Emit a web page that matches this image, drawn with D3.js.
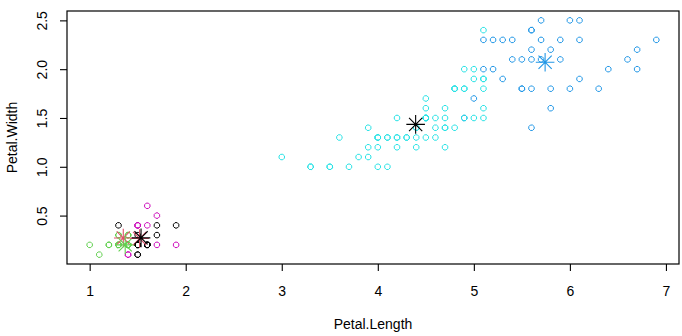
<!DOCTYPE html>
<html><head><meta charset="utf-8">
<script src="https://cdn.jsdelivr.net/npm/d3@7"></script>
<style>body{margin:0;background:#fff}svg{display:block}text{font-family:"Liberation Sans",Arial,sans-serif;fill:#000}</style>
</head><body>
<svg id="c" width="682" height="336"></svg>
<script>
const petalLength = [1.4,1.4,1.3,1.5,1.4,1.7,1.4,1.5,1.4,1.5,1.5,1.6,1.4,1.1,1.2,1.5,1.3,1.4,1.7,1.5,1.7,1.5,1.0,1.7,1.9,1.6,1.6,1.5,1.4,1.6,1.6,1.5,1.5,1.4,1.5,1.2,1.3,1.4,1.3,1.5,1.3,1.3,1.3,1.6,1.9,1.4,1.6,1.4,1.5,1.4,
4.7,4.5,4.9,4.0,4.6,4.5,4.7,3.3,4.6,3.9,3.5,4.2,4.0,4.7,3.6,4.4,4.5,4.1,4.5,3.9,4.8,4.0,4.9,4.7,4.3,4.4,4.8,5.0,4.5,3.5,3.8,3.7,3.9,5.1,4.5,4.5,4.7,4.4,4.1,4.0,4.4,4.6,4.0,3.3,4.2,4.2,4.2,4.3,3.0,4.1,
6.0,5.1,5.9,5.6,5.8,6.6,4.5,6.3,5.8,6.1,5.1,5.3,5.5,5.0,5.1,5.3,5.5,6.7,6.9,5.0,5.7,4.9,6.7,4.9,5.7,6.0,4.8,4.9,5.6,5.8,6.1,6.4,5.6,5.1,5.6,6.1,5.6,5.5,4.8,5.4,5.6,5.1,5.1,5.9,5.7,5.2,5.0,5.2,5.4,5.1];
const petalWidth = [0.2,0.2,0.2,0.2,0.2,0.4,0.3,0.2,0.2,0.1,0.2,0.2,0.1,0.1,0.2,0.4,0.4,0.3,0.3,0.3,0.2,0.4,0.2,0.5,0.2,0.2,0.4,0.2,0.2,0.2,0.2,0.4,0.1,0.2,0.2,0.2,0.2,0.1,0.2,0.2,0.3,0.3,0.2,0.6,0.4,0.3,0.2,0.2,0.2,0.2,
1.4,1.5,1.5,1.3,1.5,1.3,1.6,1.0,1.3,1.4,1.0,1.5,1.0,1.4,1.3,1.4,1.5,1.0,1.5,1.1,1.8,1.3,1.5,1.2,1.3,1.4,1.4,1.7,1.5,1.0,1.1,1.0,1.2,1.6,1.5,1.6,1.5,1.3,1.3,1.3,1.2,1.4,1.2,1.0,1.3,1.2,1.3,1.3,1.1,1.3,
2.5,1.9,2.1,1.8,2.2,2.1,1.7,1.8,1.8,2.5,2.0,1.9,2.1,2.0,2.4,2.3,1.8,2.2,2.3,1.5,2.3,2.0,2.0,1.8,2.1,1.8,1.8,1.8,2.1,1.6,1.9,2.0,2.2,1.5,1.4,2.3,2.4,1.8,1.8,2.1,2.4,2.3,1.9,2.3,2.5,2.3,1.9,2.0,2.3,1.8];
// cluster colour index (R palette)
const cluster = [3,3,3,1,3,1,3,1,3,1,1,1,6,3,3,6,1,3,1,1,6,6,3,6,6,1,6,1,3,1,1,6,1,3,1,3,3,6,3,1,3,3,3,6,1,3,1,3,1,3,
5,5,4,5,5,5,5,5,5,5,5,5,5,5,5,5,5,5,5,5,5,5,5,5,5,5,5,4,5,5,5,5,5,5,5,5,5,5,5,5,5,5,5,5,5,5,5,5,5,5,
4,5,4,4,4,4,5,4,4,4,4,4,4,5,5,4,4,4,4,5,4,5,4,5,4,4,5,5,4,4,4,4,4,5,4,4,4,4,5,4,4,4,5,4,4,4,5,4,4,5];
const centerX = [4.394, 1.35, 1.37, 5.742, 1.52, 1.535];
const centerY = [1.434, 0.27, 0.20, 2.071, 0.265, 0.272];
const centerCol = [1, 2, 3, 4, 2, 1];
const xTicks = [1,2,3,4,5,6,7];
const yTicks = [0.5,1.0,1.5,2.0,2.5];
const palette = {1:"#000000",2:"#DF536B",3:"#61D04F",4:"#2297E6",5:"#28E2E5",6:"#CD0BBC"};

const svg = d3.select("#c");
const L=67, R=679, T=11, B=264;
const x = d3.scaleLinear().domain([0.764, 7.136]).range([L, R]);
const y = d3.scaleLinear().domain([0.004, 2.596]).range([B, T]);

// points (small open circles, drawn as octagons like the low-res reference)
const pts = petalLength.map((v,i)=>({x:v,y:petalWidth[i],c:cluster[i]}));
const oct = "M-1.1,-2.7L1.1,-2.7L2.7,-1.1L2.7,1.1L1.1,2.7L-1.1,2.7L-2.7,1.1L-2.7,-1.1Z";
svg.append("g").selectAll("path").data(pts).join("path")
  .attr("transform",d=>`translate(${x(d.x)},${y(d.y)})`).attr("d",oct)
  .attr("fill","none").attr("stroke",d=>palette[d.c]).attr("stroke-width",1);

// centers (asterisks)
const cen = centerX.map((v,i)=>({x:v,y:centerY[i],c:centerCol[i]}));
const star = (h,dg)=>`M${-h},0H${h}M0,${-h}V${h}M${-dg},${-dg}L${dg},${dg}M${-dg},${dg}L${dg},${-dg}`;
svg.append("g").selectAll("path").data(cen).join("path")
  .attr("transform",d=>`translate(${x(d.x)},${y(d.y)})`)
  .attr("d",star(9.3,6.6)).attr("fill","none")
  .attr("stroke",d=>palette[d.c]).attr("stroke-width",1.1);

// box
svg.append("rect").attr("x",L).attr("y",T).attr("width",R-L).attr("height",B-T)
  .attr("fill","none").attr("stroke","#000").attr("stroke-width",1.2);

// x axis
const xa = svg.append("g").attr("transform",`translate(0,${B})`)
  .call(d3.axisBottom(x).tickValues(xTicks).tickFormat(d3.format("d")).tickSize(7).tickSizeOuter(0));
xa.select(".domain").remove();
xa.selectAll("line").attr("stroke","#000").attr("stroke-width",1.1);
xa.selectAll("text").attr("y",22).attr("dy","0.71em").style("font-size","14px").style("font-family","'Liberation Sans',Arial,sans-serif").attr("fill","#000");

// y axis
const ya = svg.append("g").attr("transform",`translate(${L},0)`)
  .call(d3.axisLeft(y).tickValues(yTicks).tickFormat(d3.format(".1f")).tickSize(7).tickSizeOuter(0));
ya.select(".domain").remove();
ya.selectAll("line").attr("stroke","#000").attr("stroke-width",1.1);
ya.selectAll("text").attr("x",null).attr("dy",null)
  .attr("transform","translate(-20,0) rotate(-90)")
  .attr("text-anchor","middle").attr("x",0).attr("y",0)
  .style("font-size","14px").style("font-family","'Liberation Sans',Arial,sans-serif").attr("fill","#000");

// titles
svg.append("text").attr("x",(L+R)/2).attr("y",329).attr("text-anchor","middle")
  .style("font-size","14px").text("Petal.Length");
svg.append("text").attr("transform",`translate(17,${(T+B)/2}) rotate(-90)`).attr("text-anchor","middle")
  .style("font-size","14px").text("Petal.Width");
</script>
</body></html>
